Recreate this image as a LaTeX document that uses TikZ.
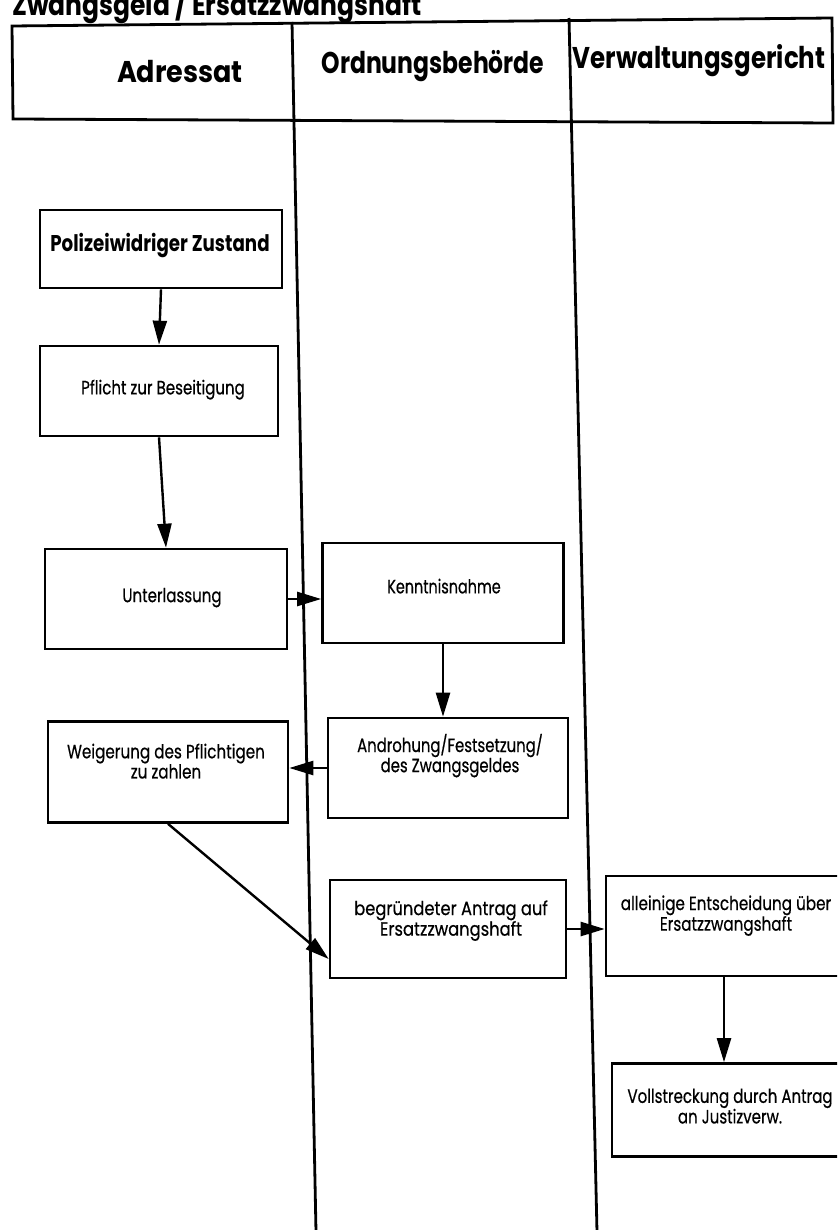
\documentclass[tikz,border=0pt]{standalone}
\usepackage{fontspec}
\setmainfont{Poppins}
\newfontfamily\boxfont[FakeBold=0.6]{Poppins}
\usetikzlibrary{arrows.meta}

% narrow, tall setting of a (possibly multi-line) label
\newcommand\squeeze[2]{\scalebox{#1}[1.2]{\begin{tabular}{@{}c@{}}#2\end{tabular}}}

\tikzset{
  box/.style={draw, line width=2.6pt, minimum width=#1, inner sep=0pt},
  txt/.style={font=\boxfont\fontsize{16}{16.5}\selectfont, inner sep=0pt},
  head/.style={font=\bfseries\fontsize{25}{28}\selectfont, inner sep=0pt},
  lane/.style={line width=2.8pt},
  flow/.style={line width=2.4pt, -{Triangle[length=24pt,width=14pt]}},
}

\begin{document}
\begin{tikzpicture}[x=1pt, y=-1pt]
\useasboundingbox (0,0) rectangle (837,1230);
\clip (0,0) rectangle (837,1230);

% title, partly cut by the top edge
\node[head, anchor=base west] (title) at (12,16) {\scalebox{1}[1.2]{Zwangsgeld / Ersatzzwangshaft}};

% header frame and swimlane dividers
\draw[lane] (12,26) -- (832,18) -- (833,123) -- (13,119) -- cycle;
\coordinate (l1top) at (292,22);
\coordinate (l1bot) at (316,1232);
\coordinate (l2top) at (569,18);
\coordinate (l2bot) at (597,1232);
\draw[lane] (l1top) -- (l1bot);
\draw[lane] (l2top) -- (l2bot);

\node[head] (hA) at (180,72) {\scalebox{1.08}[1.2]{Adressat}};
\node[head] (hO) at (433,66) {\scalebox{0.94}[1.2]{Ordnungsbehörde}};
\node[head] (hV) at (699,61) {\scalebox{0.98}[1.2]{Verwaltungsgericht}};

% process boxes
\node[box=242pt, minimum height=78pt]  (b1) at (161,249) {};
\node[box=238pt, minimum height=90pt]  (b2) at (159,391) {};
\node[box=242pt, minimum height=100pt] (b3) at (166,599) {};
\node[box=241pt, minimum height=100pt] (b4) at (443,593) {};
\node[box=240pt, minimum height=100pt] (b5) at (448,768) {};
\node[box=240pt, minimum height=101pt] (b6) at (168,772) {};
\node[box=236pt, minimum height=98pt]  (b7) at (448,929) {};
\node[box=236pt, minimum height=100pt] (b8) at (724,926) {};
\node[box=230pt, minimum height=93pt]  (b9) at (727,1110) {};

% box texts
\node[txt, font=\bfseries\fontsize{19}{22}\selectfont] (t1) at (160,246) {\squeeze{0.96}{Polizeiwidriger Zustand}};
\node[txt] (t2) at (163,390) {\squeeze{0.94}{Pflicht zur Beseitigung}};
\node[txt] (t3) at (172,598) {\squeeze{0.94}{Unterlassung}};
\node[txt] (t4) at (444,589) {\squeeze{0.9}{Kenntnisnahme}};
\node[txt] (t5) at (450,756) {\squeeze{0.93}{Androhung/Festsetzung/\\des Zwangsgeldes}};
\node[txt] (t6) at (166,764) {\squeeze{0.95}{Weigerung des Pflichtigen\\zu zahlen}};
\node[txt] (t7) at (451,921) {\squeeze{1.02}{begründeter Antrag auf\\Ersatzzwangshaft}};
\node[txt] (t8) at (726,916) {\squeeze{0.95}{alleinige Entscheidung über\\Ersatzzwangshaft}};
\node[txt] (t9) at (730,1109) {\squeeze{0.94}{Vollstreckung durch Antrag\\an Justizverw.}};

% flow connectors
\draw[flow] (b1.south) -- (b2.north);
\draw[flow] (b2.south) -- (b3.north);
\draw[flow] (b3.east) -- (b4.west |- b3.east);
\draw[flow] (b4.south) -- (b5.north -| b4.south);
\draw[flow] (b5.west) -- (b6.east |- b5.west);
\draw[flow] (b6.south) -- ([yshift=-30pt]b7.west);
\draw[flow] (b7.east) -- (b8.west |- b7.east);
\draw[flow] (b8.south) -- (b9.north -| b8.south);
\end{tikzpicture}
\end{document}
